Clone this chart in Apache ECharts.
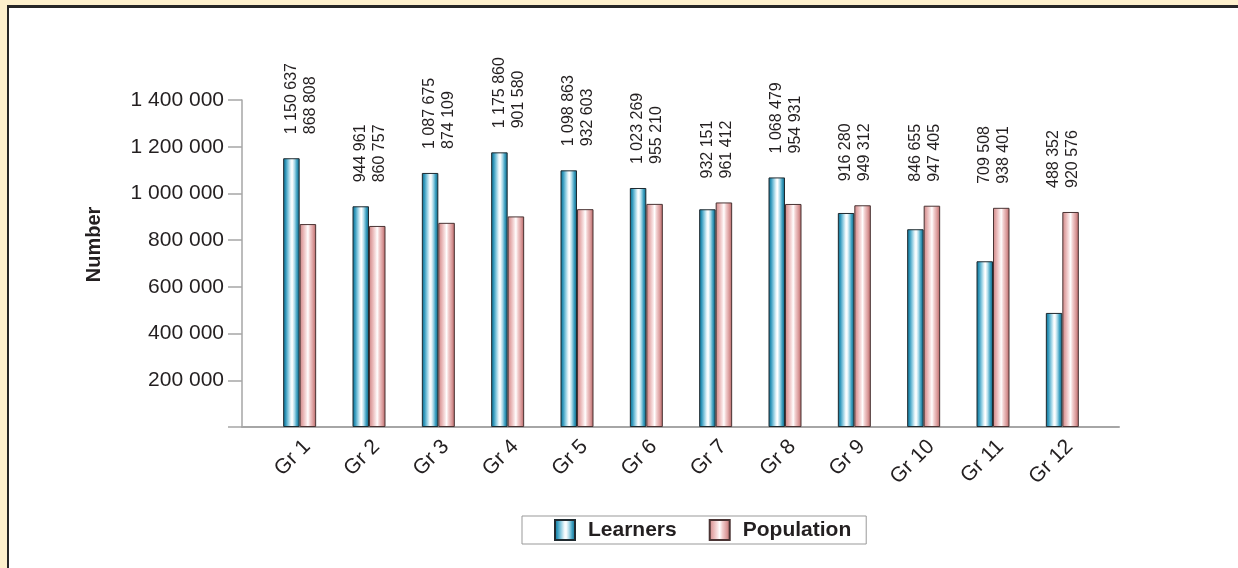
<!DOCTYPE html>
<html>
<head>
<meta charset="utf-8">
<script src="https://cdn.jsdelivr.net/npm/echarts@6/dist/echarts.min.js"></script>
<style>
  body { margin: 0; background: #fdf0cc; }
  #frame { position: absolute; left: 7px; top: 5px; right: 0; bottom: 0; background: #fff;
           border-left: 2px solid #262626; border-top: 3px solid #262626; }
  #chart { position: absolute; left: 0; top: 0; width: 1238px; height: 568px; }
</style>
</head>
<body>
<div id="frame"></div>
<div id="chart"></div>
<script>
var categories = ["Gr 1", "Gr 2", "Gr 3", "Gr 4", "Gr 5", "Gr 6", "Gr 7", "Gr 8", "Gr 9", "Gr 10", "Gr 11", "Gr 12"];
var learners = [1150637, 944961, 1087675, 1175860, 1098863, 1023269, 932151, 1068479, 916280, 846655, 709508, 488352];
var population = [868808, 860757, 874109, 901580, 932603, 955210, 961412, 954931, 949312, 947405, 938401, 920576];

var FONT = "'Liberation Sans', Arial, sans-serif";

// 1 150 637 style
const fmt = (v) => String(v).replace(/\B(?=(\d{3})+(?!\d))/g, " ");

var blueGrad = new echarts.graphic.LinearGradient(0, 0, 1, 0, [
  { offset: 0, color: "#0d6886" },
  { offset: 0.15, color: "#2f96ba" },
  { offset: 0.3, color: "#86c8de" },
  { offset: 0.47, color: "#eef8fb" },
  { offset: 0.55, color: "#ffffff" },
  { offset: 0.68, color: "#b0dcea" },
  { offset: 0.83, color: "#3c9fc0" },
  { offset: 1, color: "#085e7c" },
]);
var pinkGrad = new echarts.graphic.LinearGradient(0, 0, 1, 0, [
  { offset: 0, color: "#cc8484" },
  { offset: 0.2, color: "#e6b0b0" },
  { offset: 0.4, color: "#f8e2e2" },
  { offset: 0.5, color: "#ffffff" },
  { offset: 0.62, color: "#f2d0d0" },
  { offset: 0.82, color: "#da9a9a" },
  { offset: 1, color: "#b26262" },
]);

var labelData = categories.map((c, i) => [i, Math.max(learners[i], population[i])]);

var option = {
  animation: false,
  backgroundColor: "transparent",
  textStyle: { fontFamily: FONT },
  grid: [
    { left: 242, right: 119, top: 100, bottom: 141 },
    { left: 265, right: 141, top: 100, bottom: 141 },
  ],
  legend: {
    data: ["Learners", "Population"],
    icon: "rect",
    left: 522,
    top: 516,
    padding: [3, 15, 3, 32],
    itemWidth: 20,
    itemHeight: 20,
    itemGap: 32,
    borderColor: "#999",
    borderWidth: 1,
    textStyle: { fontFamily: FONT, fontSize: 21, fontWeight: "bold", color: "#231f20", padding: [0, 0, 0, 8] },
  },
  xAxis: [
    {
      gridIndex: 0,
      type: "value",
      min: 0,
      max: 1,
      axisLine: { show: true, onZero: false, lineStyle: { color: "#a6a6a6", width: 2 } },
      axisTick: { show: false },
      axisLabel: { show: false },
      splitLine: { show: false },
    },
    {
      gridIndex: 1,
      type: "category",
      data: categories,
      axisLine: { show: false },
      axisTick: { show: false },
      axisLabel: {
        rotate: 45,
        margin: 9,
        fontSize: 21,
        fontFamily: FONT,
        color: "#231f20",
        verticalAlign: "top",
      },
    },
  ],
  yAxis: [
    {
      gridIndex: 0,
      type: "value",
      min: 0,
      max: 1400000,
      interval: 200000,
      name: "Number",
      nameLocation: "middle",
      nameRotate: 90,
      nameGap: 138,
      nameTextStyle: {
        fontFamily: FONT,
        fontSize: 20,
        fontWeight: "bold",
        color: "#231f20",
        padding: [0, 0, 0, 38],
      },
      axisLine: { show: true, lineStyle: { color: "#a6a6a6", width: 1.5 } },
      axisTick: { show: true, length: 14, lineStyle: { color: "#a6a6a6", width: 1.5 } },
      axisLabel: {
        margin: 18,
        fontSize: 21,
        fontFamily: FONT,
        color: "#231f20",
        formatter: (v) => (v === 0 ? "" : fmt(v)),
      },
      splitLine: { show: false },
    },
    { gridIndex: 1, type: "value", min: 0, max: 1400000, show: false },
  ],
  series: [
    {
      name: "Learners",
      type: "bar",
      xAxisIndex: 1,
      yAxisIndex: 1,
      data: learners,
      barWidth: 16.5,
      barGap: "0%",
      itemStyle: { color: blueGrad, borderColor: "#1f2a30", borderWidth: 1 },
    },
    {
      name: "Population",
      type: "bar",
      xAxisIndex: 1,
      yAxisIndex: 1,
      data: population,
      barWidth: 16.5,
      barGap: "0%",
      itemStyle: { color: pinkGrad, borderColor: "#4a3434", borderWidth: 1 },
    },
    {
      name: "labels",
      type: "custom",
      xAxisIndex: 1,
      yAxisIndex: 1,
      data: labelData,
      encode: { x: 0, y: 1 },
      silent: true,
      z: 5,
      renderItem: function (params, api) {
        var i = api.value(0);
        var p = api.coord([i, api.value(1)]);
        return {
          type: "text",
          x: p[0] + 1,
          y: p[1] - 24,
          rotation: Math.PI / 2,
          style: {
            text: fmt(learners[i]) + "\n" + fmt(population[i]),
            fontFamily: FONT,
            fontSize: 16,
            lineHeight: 19,
            fill: "#231f20",
            align: "left",
            verticalAlign: "middle",
          },
        };
      },
    },
  ],
};

var myChart = echarts.init(document.getElementById("chart"));
myChart.setOption(option);
</script>
</body>
</html>
